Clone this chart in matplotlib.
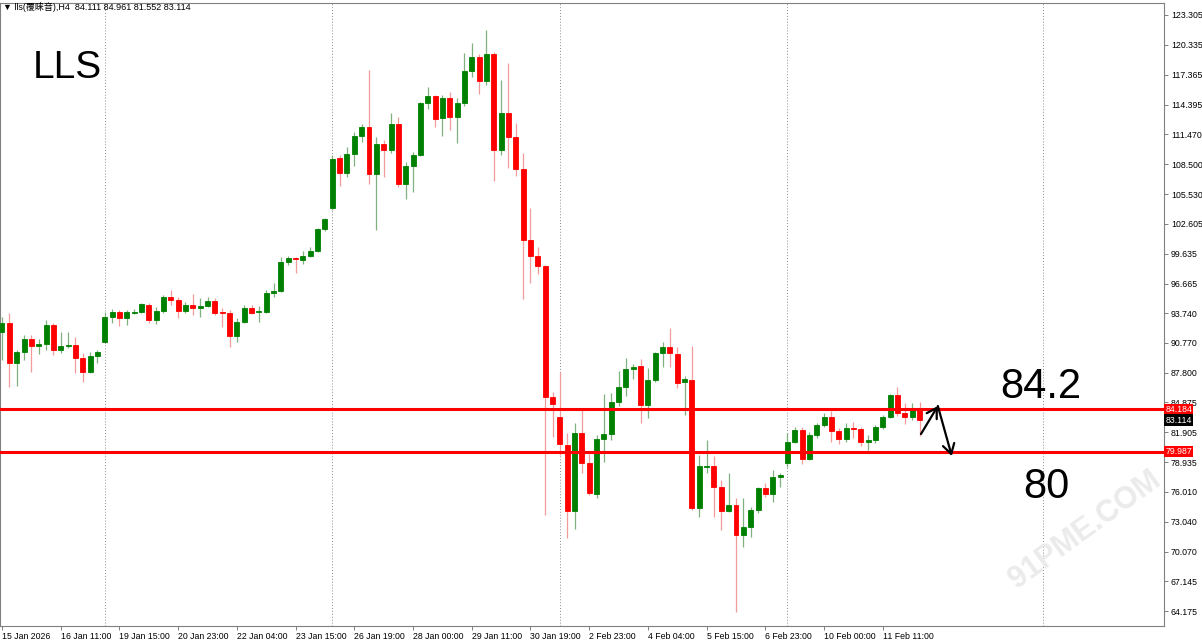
import matplotlib
matplotlib.use("Agg")
import matplotlib.pyplot as plt
import matplotlib.transforms as mtransforms

plt.rcParams['font.family'] = ['Liberation Sans', 'Noto Sans CJK SC', 'DejaVu Sans']

# H4 candles (price units)
opens = [
    91.856, 92.749, 88.780, 89.872, 91.161, 90.467, 90.665, 92.550, 90.070, 90.467,
    90.566, 89.276, 87.888, 89.475, 90.863, 93.344, 93.840, 93.245, 93.741, 93.840,
    94.535, 93.047, 93.940, 95.329, 95.031, 93.940, 94.535, 94.237, 94.436, 94.932,
    93.840, 93.741, 91.459, 92.848, 94.237, 93.840, 93.840, 95.726, 95.924, 98.801,
    99.198, 98.999, 99.396, 99.893, 102.075, 104.158, 109.118, 107.630, 109.515, 111.301,
    112.194, 107.531, 110.507, 109.912, 112.491, 106.539, 108.324, 109.416, 114.575, 115.269,
    113.087, 115.071, 113.186, 114.575, 117.749, 119.138, 116.757, 119.436, 109.912, 113.583,
    111.201, 108.027, 100.984, 99.396, 98.404, 85.407, 83.423, 80.645, 74.097, 81.836,
    78.860, 75.784, 81.241, 81.737, 84.911, 86.400, 88.185, 88.483, 84.614, 87.094,
    89.772, 90.367, 89.673, 86.896, 87.094, 74.395, 78.463, 78.562, 76.479, 74.097,
    74.693, 71.717, 72.510, 74.197, 76.379, 75.784, 77.471, 78.860, 80.943, 82.134,
    79.256, 81.637, 82.629, 83.423, 82.034, 81.241, 82.332, 82.233, 80.943, 81.141,
    82.431, 83.423, 85.606, 83.820, 83.423, 84.111,
]
highs = [
    93.344, 93.741, 90.070, 91.558, 91.558, 91.161, 93.047, 92.749, 91.856, 91.856,
    91.360, 89.772, 89.872, 90.070, 93.840, 94.138, 94.039, 94.039, 94.138, 94.734,
    94.734, 94.337, 95.527, 96.023, 95.329, 94.833, 95.627, 95.230, 95.329, 95.230,
    94.237, 94.039, 93.245, 94.535, 94.535, 94.436, 96.023, 96.718, 99.297, 99.396,
    99.297, 99.893, 100.289, 102.174, 103.166, 109.416, 109.416, 110.210, 111.698, 112.491,
    117.849, 111.201, 110.904, 113.583, 113.186, 108.721, 109.714, 114.674, 116.162, 115.369,
    115.369, 115.666, 115.071, 119.535, 120.527, 119.436, 121.817, 119.635, 116.857, 118.543,
    112.591, 109.615, 104.158, 100.289, 98.503, 85.904, 87.888, 81.836, 82.828, 84.118,
    79.752, 81.637, 85.705, 85.804, 87.987, 89.276, 88.681, 89.177, 88.284, 89.872,
    90.863, 92.253, 90.367, 87.491, 90.467, 79.653, 81.141, 79.554, 77.173, 77.868,
    75.387, 75.387, 74.494, 76.479, 76.876, 78.165, 77.868, 81.836, 82.431, 82.431,
    81.935, 82.828, 83.820, 84.018, 82.332, 82.828, 82.927, 82.431, 81.637, 82.629,
    83.621, 85.705, 86.400, 84.812, 84.812, 84.961,
]
lows = [
    89.078, 86.400, 86.499, 89.078, 87.888, 89.673, 90.070, 89.574, 89.772, 90.268,
    87.788, 86.896, 87.788, 88.780, 90.764, 92.749, 92.451, 92.550, 93.642, 93.741,
    92.749, 92.650, 93.741, 94.535, 93.245, 93.741, 93.543, 93.344, 94.337, 93.543,
    92.352, 90.367, 90.863, 92.749, 93.642, 92.848, 93.741, 95.329, 95.825, 98.503,
    97.710, 98.603, 99.297, 99.794, 101.877, 103.960, 106.341, 107.234, 108.324, 110.706,
    106.539, 101.976, 107.234, 109.615, 106.242, 105.051, 105.746, 109.317, 113.980, 112.194,
    111.301, 111.896, 110.607, 114.277, 117.154, 115.468, 116.360, 106.837, 109.416, 108.126,
    107.333, 95.130, 96.718, 97.611, 73.701, 81.439, 79.653, 71.419, 72.312, 77.868,
    75.685, 75.387, 78.959, 81.141, 84.515, 85.507, 87.193, 82.828, 83.324, 86.896,
    88.384, 88.384, 86.300, 83.621, 74.197, 73.502, 77.868, 73.502, 72.213, 73.998,
    64.077, 70.526, 71.518, 73.899, 75.486, 74.990, 76.479, 78.463, 80.844, 78.760,
    79.157, 81.340, 82.431, 80.943, 80.744, 80.943, 81.340, 80.546, 80.149, 80.844,
    82.233, 83.324, 83.522, 82.729, 83.125, 81.552,
]
closes = [
    92.749, 88.780, 89.872, 91.161, 90.467, 90.665, 92.550, 90.070, 90.467, 90.566,
    89.276, 87.888, 89.475, 89.872, 93.344, 93.840, 93.245, 93.840, 93.840, 94.634,
    93.047, 93.940, 95.329, 95.031, 93.940, 94.535, 94.237, 94.436, 94.932, 93.741,
    93.741, 91.459, 92.848, 94.237, 93.741, 93.940, 95.726, 95.924, 98.801, 99.198,
    99.099, 99.396, 99.893, 102.075, 103.067, 109.019, 107.630, 109.515, 111.301, 112.194,
    107.531, 110.507, 109.912, 112.491, 106.539, 108.324, 109.416, 114.575, 115.269, 112.987,
    115.071, 113.186, 114.575, 117.749, 119.138, 116.757, 119.436, 109.912, 113.583, 111.201,
    108.027, 100.984, 99.396, 98.404, 85.407, 84.713, 80.744, 74.097, 81.836, 78.860,
    75.883, 81.241, 81.737, 84.911, 86.400, 88.185, 88.384, 84.614, 87.094, 89.772,
    90.367, 89.772, 86.796, 87.193, 74.395, 78.562, 78.562, 76.479, 74.097, 74.693,
    71.717, 72.510, 74.197, 76.379, 75.784, 77.471, 77.669, 80.943, 82.134, 79.256,
    81.637, 82.629, 83.423, 82.034, 81.241, 82.332, 82.233, 80.943, 81.141, 82.431,
    83.423, 85.606, 83.820, 83.423, 84.217, 83.114,
]

x_labels = ["15 Jan 2026", "16 Jan 11:00", "19 Jan 15:00", "20 Jan 23:00", "22 Jan 04:00",
            "23 Jan 15:00", "26 Jan 19:00", "28 Jan 00:00", "29 Jan 11:00", "30 Jan 19:00",
            "2 Feb 23:00", "4 Feb 04:00", "5 Feb 15:00", "6 Feb 23:00", "10 Feb 00:00",
            "11 Feb 11:00"]
x_label_bars = [0, 8, 16, 24, 32, 40, 48, 56, 64, 72, 80, 88, 96, 104, 112, 120]
y_ticks = [123.305, 120.335, 117.365, 114.395, 111.470, 108.500, 105.530, 102.605, 99.635,
           96.665, 93.740, 90.770, 87.800, 84.875, 81.905, 78.935, 76.010, 73.040, 70.070,
           67.145, 64.175]
levels = [84.184, 79.987]
last_price = 83.114
week_grid = [14, 45, 76, 107, 141.8]
arrow_path = [(125.2, 81.737), (127.5, 84.515), (129.4, 79.554)]

fig = plt.figure(figsize=(12.02, 6.42), dpi=100)
ax = fig.add_axes([0, 16 / 642, 1164 / 1202, 623 / 642])

green, red = "#008000", "#ff0000"
for i, (o, h, l, c) in enumerate(zip(opens, highs, lows, closes)):
    up = c >= o
    ax.vlines(i, l, h, color="#7fb27f" if up else "#f39a9a", lw=0.9, zorder=2)
    ax.bar(i, abs(c - o), bottom=min(o, c), width=0.68, color=green if up else red,
           edgecolor=green if up else red, linewidth=0.6, zorder=3)

for g in week_grid:
    ax.axvline(g, color="#8c8c8c", lw=0.7, ls=(0, (1, 2)), zorder=1)

for lv in levels:
    ax.axhline(lv, color=red, lw=2.2, zorder=4)

for (x0, y0), (x1, y1) in zip(arrow_path[:-1], arrow_path[1:]):
    ax.annotate("", xy=(x1, y1), xytext=(x0, y0),
                arrowprops=dict(arrowstyle="->,head_length=0.5,head_width=0.3",
                                lw=1.6, color="black", mutation_scale=14, shrinkA=0, shrinkB=0),
                zorder=5)

ax.set_xlim(-0.272, 158.31)
ax.set_ylim(62.690, 124.495)

ax.set_xticks(x_label_bars)
ax.set_xticklabels(x_labels, ha="left")
ax.yaxis.tick_right()
ax.set_yticks(y_ticks)
ax.set_yticklabels([f"{v:.3f}" for v in y_ticks])
ax.tick_params(axis="both", direction="out", length=3, width=0.7, color="#808080",
               labelsize=6.3, pad=2)
ax.tick_params(axis="x", pad=1)
for s in ax.spines.values():
    s.set_color("#808080")
    s.set_linewidth(0.8)

trans = mtransforms.blended_transform_factory(ax.transAxes, ax.transData)
for lv in levels:
    ax.text(1.001, lv, f"{lv:.3f}", transform=trans, ha="left", va="center", fontsize=6.3,
            color="white", clip_on=False, zorder=6,
            bbox=dict(facecolor=red, edgecolor="none", pad=0.8))
ax.text(1.001, last_price, f"{last_price:.3f}", transform=trans, ha="left", va="center",
        fontsize=6.3, color="white", clip_on=False, zorder=6,
        bbox=dict(facecolor="black", edgecolor="none", pad=0.8))

ax.text(0.028, 0.88, "LLS", transform=ax.transAxes, fontsize=28, va="baseline", ha="left")
ax.text(0.859, 0.366, "84.2", transform=ax.transAxes, fontsize=30, va="baseline", ha="left")
ax.text(0.879, 0.205, "80", transform=ax.transAxes, fontsize=30, va="baseline", ha="left")

fig.text(1085 / 1202, 1 - 530 / 642, "91PME.COM", fontsize=22, color="#ebebeb",
         rotation=36, ha="center", va="center", fontweight="bold", zorder=0)

fig.text(3 / 1202, 1 - 7 / 642, "▼ lls(覆睐音),H4  84.111 84.961 81.552 83.114",
         fontsize=6.5, va="center", ha="left")

fig.savefig("out.png", dpi=100)
